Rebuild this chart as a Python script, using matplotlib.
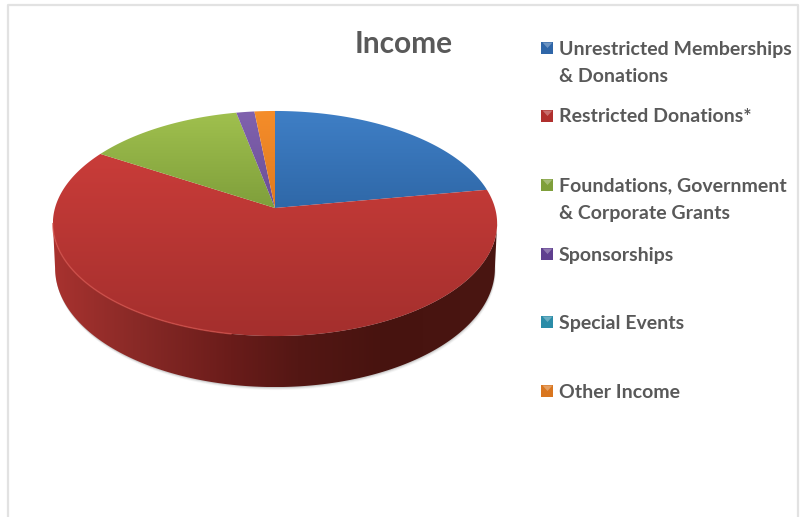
import numpy as np
import matplotlib
matplotlib.use("Agg")
import matplotlib.pyplot as plt
from matplotlib.colors import LinearSegmentedColormap
from matplotlib.patches import Polygon, Rectangle

plt.rcParams['font.family'] = ['Lato', 'DejaVu Sans']

# data (percent of income)
labels = ["Unrestricted Memberships\n& Donations", "Restricted Donations*",
          "Foundations, Government\n& Corporate Grants", "Sponsorships",
          "Special Events", "Other Income"]
values = [22.3, 61.5, 13.0, 1.5, 0.0, 1.7]
colors_top = ["#3f7fc6", "#c93c39", "#a0c04e", "#8062ae", "#2fa5c4", "#f58d2a"]
colors_bot = ["#2f68a8", "#a42f2d", "#7f9f3b", "#6b4e96", "#2b8ba6", "#e07a20"]
legend_colors = ["#2f66a8", "#b0302e", "#7f9f3b", "#5f3f8f", "#2a8ca8", "#d9761f"]
title = "Income"

# pie geometry in pixels, perspective tilt makes the back half shorter
CX, CY = 275, 208
SX, SY, P = 220, 110.4, 0.1378
DEPTH = 44
SHRINK = 0.99


def project(theta):
    # theta in degrees clockwise from 12 o'clock
    u = np.sin(np.radians(theta))
    v = np.cos(np.radians(theta))
    w = 1 + P * v
    return CX + SX * u / w, CY - SY * v / w, w


fig = plt.figure(figsize=(8.04, 5.17), dpi=100)
ax = fig.add_axes([0, 0, 1, 1])
ax.set_axis_off()

# chart frame
ax.plot([8.5, 8.5, 798, 798], [517, 5, 5, 517], color="#e2e2e2", lw=1.6)

# soft shadow below the side wall
th = np.linspace(85, 275, 200)
x, y, w = project(th)
for off, a in [(3.0, 0.06), (2.0, 0.10), (1.0, 0.16)]:
    xb = CX + (x - CX) * SHRINK
    pts = np.c_[xb + off * 0.3, y + DEPTH / w + off]
    ax.add_patch(Polygon(pts, closed=True, fc="#555555", ec="none", alpha=a, zorder=1))

# side wall, restricted donations slice is the only one showing in front
wall_cmap = LinearSegmentedColormap.from_list(
    "wall", [(0, "#a8322f"), (0.18, "#8a2a27"), (0.4, "#6a1c1a"), (0.55, "#541714"), (0.75, "#47130f"), (1, "#4a1612")])
th = np.linspace(97.9, 262.1, 240)
x, y, w = project(th)
xb = CX + (x - CX) * SHRINK
pts = np.vstack([np.c_[x, y], np.c_[xb, y + DEPTH / w][::-1]])
wall = Polygon(pts, closed=True, fc="none", ec="none", zorder=2)
ax.add_patch(wall)
im = ax.imshow(np.linspace(0, 1, 256)[None, :], cmap=wall_cmap, aspect="auto",
               extent=[x.min(), x.max(), pts[:, 1].max(), pts[:, 1].min()], zorder=2)
im.set_clip_path(wall)

# top face, one gradient filled polygon per slice
start = 0.0
total = sum(values)
for val, c1, c2 in zip(values, colors_top, colors_bot):
    if val == 0:
        continue
    end = start + val / total * 360
    th = np.linspace(start, end, max(int(end - start) * 2, 4))
    x, y, _ = project(th)
    pts = np.vstack([[CX, CY], np.c_[x, y]])
    poly = Polygon(pts, closed=True, fc="none", ec="none", zorder=3)
    ax.add_patch(poly)
    cmap = LinearSegmentedColormap.from_list("g", [c1, c2])
    top, bot = pts[:, 1].min(), pts[:, 1].max()
    im = ax.imshow(np.linspace(0, 1, 128)[:, None], cmap=cmap, aspect="auto",
                   extent=[pts[:, 0].min(), pts[:, 0].max(), bot, top], zorder=3)
    im.set_clip_path(poly)
    start = end

# light rim along the front left edge of the top face
th = np.linspace(190, 262, 100)
x, y, _ = project(th)
ax.plot(x, y, color="#d4504a", lw=1.1, alpha=0.7, zorder=4)

# legend
legend_y = [48, 116, 185, 254, 322, 391]
for lab, col, ly in zip(labels, legend_colors, legend_y):
    ax.add_patch(Rectangle((541.5, ly - 6), 12, 12, fc=col, ec="none", zorder=5))
    ax.add_patch(Polygon([[542.5, ly - 5.5], [552.5, ly - 5.5], [547.5, ly]], closed=True, fc="white",
                         ec="none", alpha=0.3, zorder=6))
    parts = lab.split("\n")
    for i, part in enumerate(parts):
        ax.text(559, ly + 6.5 + i * 27, part, fontsize=14, fontweight="bold", color="#595959",
                va="baseline", ha="left")

ax.text(404, 53, title, fontsize=21.5, fontweight="bold", color="#595959", va="baseline", ha="center")

ax.set_xlim(0, 804)
ax.set_ylim(517, 0)

fig.savefig("out.png", dpi=100)
